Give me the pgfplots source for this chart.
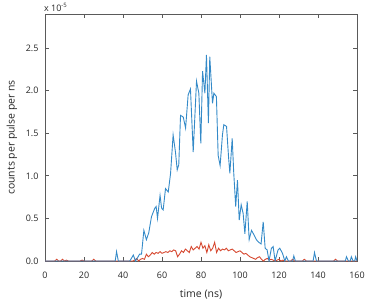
\documentclass[border=0pt]{standalone}
\usepackage{pgfplots}
\pgfplotsset{compat=1.18}
\usepackage{fontspec}
\setmainfont{Open Sans}
\definecolor{bluel}{RGB}{52,138,200}
\definecolor{redl}{RGB}{214,72,48}
\definecolor{axgray}{RGB}{90,90,90}
\begin{document}
\begin{tikzpicture}
\begin{axis}[
  scale only axis,
  width=312bp, height=247bp,
  xmin=0, xmax=160, ymin=0, ymax=2.9,
  xtick={0,20,...,160},
  ytick={0,0.5,1,1.5,2,2.5},
  yticklabel style={xshift=-3bp, /pgf/number format/.cd,fixed,fixed zerofill,precision=1},
  /pgf/number format/assume math mode=true,
  tick align=inside,
  major tick length=4bp,
  tick style={axgray, line width=0.8pt},
  axis line style={axgray, line width=0.9pt},
  ticklabel style={font=\fontsize{9}{10}\selectfont, text=black!85},
  xticklabel style={yshift=-7.5bp},
  label style={font=\fontsize{10.5}{12}\selectfont, text=black!85},
  xlabel={time (ns)},
  ylabel={counts per pulse per ns},
  xlabel style={at={(axis description cs:0.5,-0.137)}, anchor=center},
  ylabel style={at={(axis description cs:-0.106,0.5)}, anchor=center},
  scaled y ticks=false,
  clip=true,
]
\addplot[redl, line width=0.9pt] coordinates {
(0,0)(5,0)(6,0.02)(7,0)(8,0)(9,0.02)(10,0)(11,0.01)(12,0)(18,0)(19,0.01)(20,0)(24,0)(25,0.02)(26,0)(45,0)(46,0.01)(47,0.03)(48,0)(49,0.02)(50,0.03)(51,0.02)(52,0.08)(53,0.05)(54,0.07)(55,0.1)(56,0.08)(57,0.1)(58,0.09)(59,0.11)(60,0.09)(61,0.1)(62,0.11)(63,0.1)(64,0.12)(65,0.11)(66,0.13)(67,0.12)(68,0.05)(69,0.08)(70,0.12)(71,0.1)(72,0.14)(73,0.12)(74,0.1)(75,0.17)(76,0.13)(77,0.15)(78,0.17)(79,0.14)(80,0.22)(81,0.15)(82,0.18)(83,0.1)(84,0.19)(85,0.12)(86,0.15)(87,0.22)(88,0.1)(89,0.15)(90,0.12)(91,0.14)(92,0.13)(93,0.15)(94,0.12)(95,0.13)(96,0.14)(97,0.12)(98,0.1)(99,0.11)(100,0.12)(101,0.1)(102,0.08)(103,0.09)(104,0.07)(105,0.05)(106,0.04)(107,0.03)(108,0.02)(109,0.04)(110,0.05)(111,0.02)(112,0)(113,0.02)(114,0.03)(115,0.01)(116,0.02)(117,0.01)(118,0)(119,0.01)(120,0.02)(121,0)(122,0.01)(123,0)(126,0)(127,0.02)(128,0)(132,0)(133,0.02)(134,0)(148,0)(149,0.02)(150,0)(160,0)
};
\addplot[bluel, line width=0.9pt] coordinates {
(0,0)(36,0)(36.7,0.11)(37.6,0)(43.5,0)(45.3,0.07)(46.4,0)(47,0.02)(48.5,0.08)(49.5,0.08)(50.7,0.36)(52,0.25)(53.2,0.33)(54.6,0.52)(56.3,0.62)(57,0.64)(57.7,0.5)(59,0.77)(59.8,0.62)(60.6,0.6)(61.8,0.85)(63.2,0.81)(64.4,1.03)(65.7,1.48)(66.9,1.28)(67.8,1.07)(68.6,1.13)(69.5,1.71)(70.9,1.69)(72.1,1.56)(73.4,1.95)(74.6,2.02)(76,1.28)(77.7,2.11)(78.9,1.97)(79.9,1.38)(80.8,2.23)(82,1.97)(82.8,2.42)(83.8,1.62)(84.5,2.40)(85.9,1.85)(86.6,1.97)(87.9,1.93)(88.8,1.24)(89.8,1.12)(91,1.48)(91.7,1.60)(93.1,1.58)(94.1,1.23)(94.8,1.03)(96,1.44)(96.8,1.03)(97.8,0.64)(98.7,0.95)(99.6,0.48)(100.6,0.66)(101.6,0.56)(102.5,0.32)(103.7,0.70)(104.7,0.25)(105.9,0.36)(107.1,0.31)(108.4,0.25)(109.6,0.22)(110.8,0.20)(111.9,0.46)(112.9,0.15)(113.9,0.13)(114.9,0)(116.1,0.15)(117,0.17)(118,0)(119.5,0.13)(120.4,0.15)(121.8,0.09)(123,0)(123.8,0.05)(124.8,0)(127,0)(127.6,0.06)(128.4,0)(137.5,0)(138.2,0.10)(139.2,0)(154,0)(154.6,0.05)(155.6,0)(156.5,0)(157.1,0.05)(158,0)(158.8,0)(159.3,0.05)(160,0)
};
\end{axis}
\node[anchor=south west, font=\fontsize{9}{10}\selectfont, text=black!85, inner sep=0pt] at ([xshift=-1bp,yshift=2bp]current axis.north west) {x 10\textsuperscript{-5}};
\pgfresetboundingbox
\path ([xshift=-45bp,yshift=-45bp]current axis.south west) rectangle ([xshift=17bp,yshift=14bp]current axis.north east);
\end{tikzpicture}
\end{document}
